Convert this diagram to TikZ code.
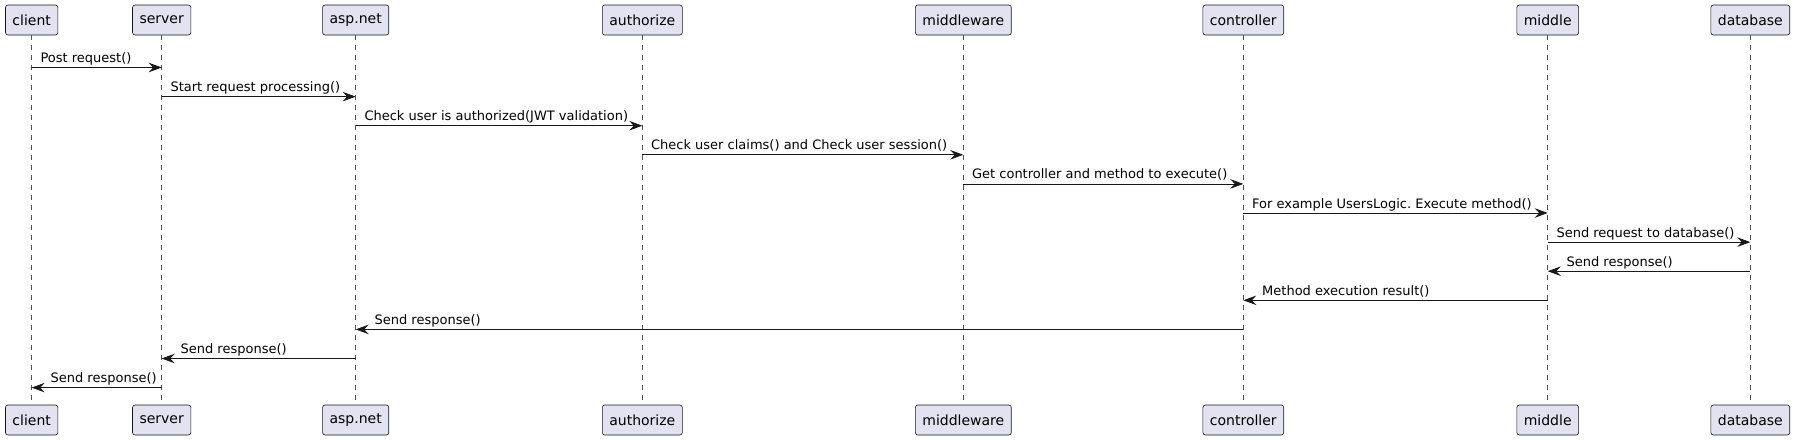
\documentclass[tikz,border=0pt]{standalone}
\usepackage{fontspec}
\setmainfont{DejaVu Sans}
\usetikzlibrary{arrows.meta}
\frenchspacing
\definecolor{PartFill}{HTML}{E2E2F0}
\definecolor{PartInk}{HTML}{181818}
\tikzset{
  part/.style={draw=PartInk, fill=PartFill, line width=0.6pt, rounded corners=2.5pt, minimum height=30pt, inner xsep=7pt, font=\fontsize{14}{16}\selectfont},
  life/.style={draw=PartInk!75, line width=0.6pt, dash pattern=on 5pt off 5pt},
  msg/.style={draw=PartInk, line width=0.8pt, -{Stealth[length=13pt,width=9.5pt,inset=4.5pt]}},
  lbl/.style={font=\fontsize{13}{15}\selectfont, inner sep=0pt, anchor=base west, yshift=5pt}
}
\begin{document}
\begin{tikzpicture}[x=1pt,y=1pt]
  \useasboundingbox (0,0) rectangle (1795,-440);
  \foreach \n/\x/\t in {client/31.7/client, server/161.7/server, aspnet/355.7/asp.net, authorize/642.3/authorize,
      middleware/963.3/middleware, controller/1243.3/controller, middle/1547.7/middle, database/1750.3/database}{
    \node[part] (\n-top) at (\x,-20) {\t};
    \node[part] (\n-bot) at (\x,-420) {\t};
    \draw[life] (\n-top) -- (\n-bot);
  }
  \foreach \i/\a/\b/\txt in {1/client/server/{Post request()}, 2/server/aspnet/{Start request processing()},
      3/aspnet/authorize/{Check user is authorized(JWT validation)}, 4/authorize/middleware/{Check user claims() and Check user session()},
      5/middleware/controller/{Get controller and method to execute()}, 6/controller/middle/{For example UsersLogic. Execute method()},
      7/middle/database/{Send request to database()}}{
    \coordinate (m\i) at (0,-67.5-29.1*\i+29.1);
    \draw[msg] (\a-top |- m\i) -- (\b-top |- m\i) node[lbl, pos=0, xshift=8.4pt] {\txt};
  }
  \foreach \i/\a/\b/\txt in {8/database/middle/{Send response()}, 9/middle/controller/{Method execution result()},
      10/controller/aspnet/{Send response()}, 11/aspnet/server/{Send response()}, 12/server/client/{Send response()}}{
    \coordinate (m\i) at (0,-67.5-29.1*\i+29.1);
    \draw[msg] (\a-top |- m\i) -- (\b-top |- m\i) node[lbl, pos=1, xshift=18.5pt] {\txt};
  }
\end{tikzpicture}
\end{document}
